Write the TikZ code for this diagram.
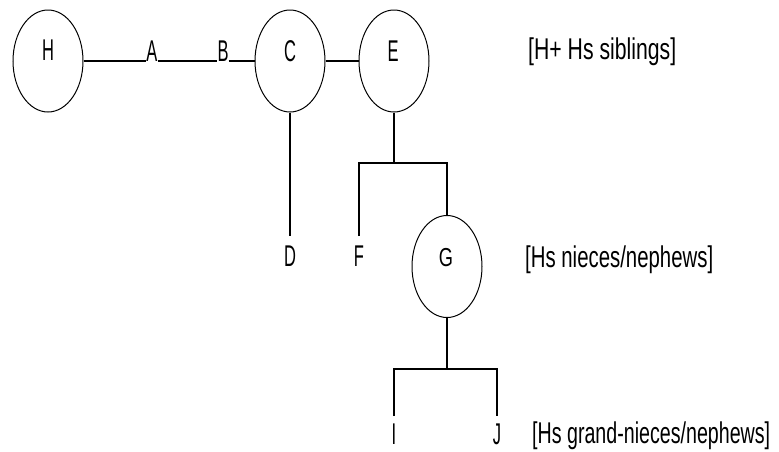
\documentclass[tikz,border=0pt]{standalone}
\usepackage{fontspec}
\usepackage{graphicx}
\setmainfont{Liberation Sans}
\usetikzlibrary{shapes.geometric}
\newcommand{\ltrtxt}[1]{\scalebox{0.55}[1]{#1}}
\newcommand{\captxt}[2]{\resizebox{#1}{\height}{#2}}
\begin{document}
\begin{tikzpicture}[x=1pt,y=-1pt,
  pers/.style={draw, ellipse, line width=1pt, minimum width=70pt, minimum height=102pt, inner sep=0pt},
  lbl/.style={inner sep=0pt, anchor=base, font=\fontsize{30}{33}\selectfont},
  captionbox/.style={inner sep=0pt, anchor=base west, font=\fontsize{30}{33}\selectfont},
  conn/.style={line width=1.1pt}]
\useasboundingbox[fill=white] (0,0) rectangle (779,451);
% persons
\node[pers] (H) at (48,61) {};
\node[pers] (C) at (290,61) {};
\node[pers] (E) at (394,61) {};
\node[pers] (G) at (447,266.5) {};
\node[lbl] (Ht) at (48,60) {\ltrtxt{H}};
\node[lbl] (Ct) at (290,61) {\ltrtxt{C}};
\node[lbl] (Et) at (393,61) {\ltrtxt{E}};
\node[lbl, font=\fontsize{26}{29}\selectfont] (Gt) at (446,266) {\scalebox{0.7}[1]{G}};
% letters on the line
\node[lbl] (A) at (152,61) {\ltrtxt{A}};
\node[lbl] (B) at (223,61) {\ltrtxt{B}};
% leaves
\node[lbl] (D) at (290,266) {\ltrtxt{D}};
\node[lbl] (F) at (359,266) {\ltrtxt{F}};
\node[lbl] (I) at (394,444) {\ltrtxt{I}};
\node[lbl] (J) at (497,444) {\ltrtxt{J}};
% captions
\node[captionbox] (cap1) at (528,59) {\captxt{148pt}{[H+ Hs siblings]}};
\node[captionbox] (cap2) at (525,267) {\captxt{188pt}{[Hs nieces/nephews]}};
\node[captionbox] (cap3) at (532,443) {\captxt{238pt}{[Hs grand-nieces/nephews]}};
% connectors
\coordinate (eb) at (394,163);
\coordinate (gb) at (447,369);
\draw[conn] (H.east) -- (A.base west);
\draw[conn] (A.base east) -- (B.base west);
\draw[conn] (B.base east) -- (C.west);
\draw[conn] (C.east) -- (E.west);
\draw[conn, shorten >=9pt] (C.south) -- (D.north);
\draw[conn] (E.south) -- (eb);
\draw[conn, shorten <=9pt] (F.north) -- (F.north |- eb) -- (G.north |- eb) -- (G.north);
\draw[conn] (G.south) -- (gb);
\draw[conn, shorten <=7pt, shorten >=7pt] (I.north) -- (I.north |- gb) -- (J.north |- gb) -- (J.north);
\end{tikzpicture}
\end{document}
